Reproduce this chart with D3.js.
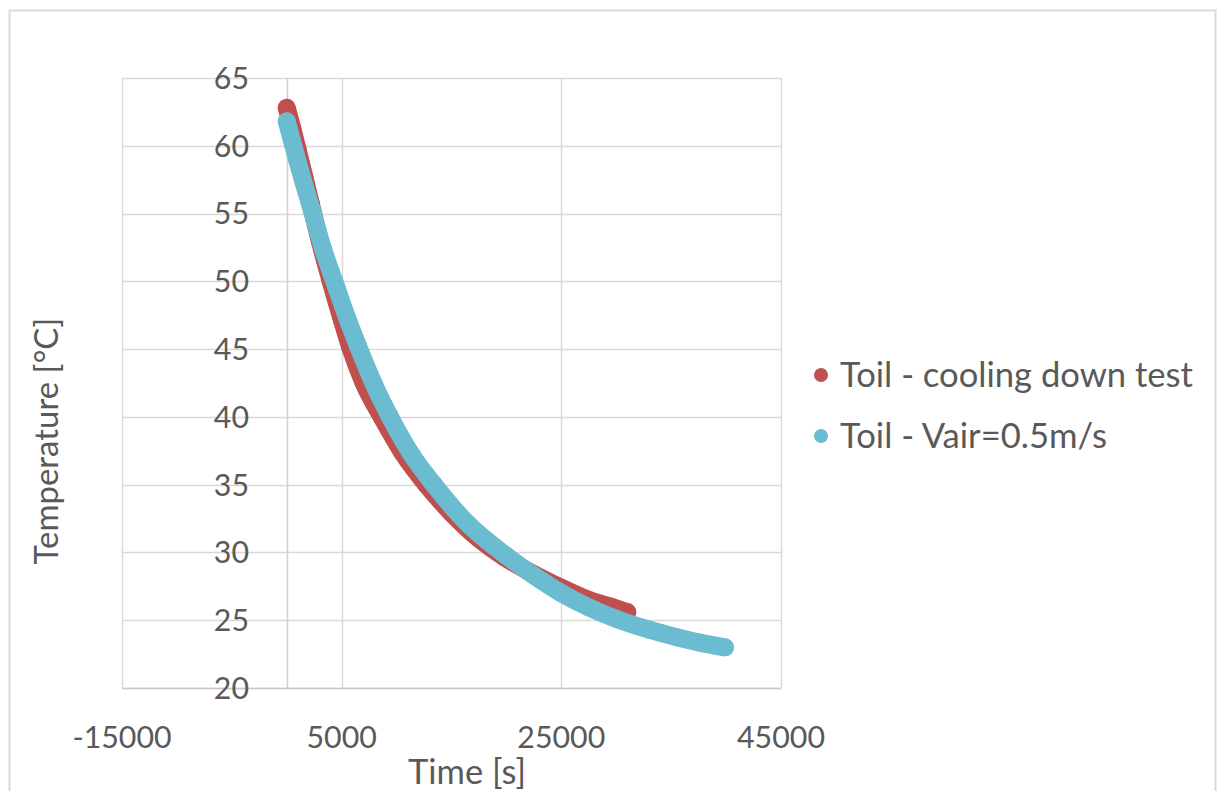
<!DOCTYPE html>
<html><head><meta charset="utf-8">
<script src="https://cdn.jsdelivr.net/npm/d3@7"></script>
<style>
body{margin:0;background:#fff;overflow:hidden}
text{font-family:Lato,"Open Sans",sans-serif;fill:#595959}
</style>
</head><body>
<svg id="chart" width="1217" height="791"></svg>
<script>
// ---- data ----
const seriesNames = ["Toil - cooling down test", "Toil - Vair=0.5m/s"];
const seriesColors = ["#C0504D", "#6BBCD0"];

const redTime = [0, 500, 1000, 1600, 2200, 3000, 4000, 5000, 5750, 7000, 8700, 10500, 12700, 15000, 17500, 19800, 22500, 25000, 27500, 29500, 31000];
const redTemp = [62.8, 61.3, 59.7, 57.7, 55.7, 53.0, 50.0, 47.2, 45.2, 42.5, 39.9, 37.4, 35.0, 32.9, 31.0, 29.65, 28.4, 27.4, 26.5, 26.0, 25.6];

const blueTime = [0, 500, 1000, 1600, 2300, 3300, 4500, 5500, 6500, 8000, 9400, 11300, 13400, 16500, 20000, 22500, 25000, 27500, 30000, 33000, 35500, 37600, 39900];
const blueTemp = [61.8, 60.3, 58.8, 57.1, 55.2, 52.4, 49.6, 47.3, 45.2, 42.3, 40.0, 37.3, 35.0, 32.1, 29.75, 28.3, 27.0, 25.95, 25.1, 24.3, 23.75, 23.35, 23.0];

const xTickValues = [-15000, 5000, 25000, 45000];
const yTickValues = [20, 25, 30, 35, 40, 45, 50, 55, 60, 65];
const xTitle = "Time [s]";
const yTitle = "Temperature [°C]";

// ---- drawing ----
const svg = d3.select("#chart");
const plot = {left: 122, right: 781, top: 78, bottom: 688};

// outer chart frame
svg.append("rect").attr("x", 9.5).attr("y", 10.5).attr("width", 1206).attr("height", 800)
  .attr("fill", "#fff").attr("stroke", "#D9D9D9").attr("stroke-width", 2);

const x = d3.scaleLinear().domain([-15000, 45000]).range([plot.left, plot.right]);
const y = d3.scaleLinear().domain([20, 65]).range([plot.bottom, plot.top]);

const grid = svg.append("g");
grid.selectAll("line.h").data(yTickValues).join("line")
  .attr("x1", plot.left).attr("x2", plot.right)
  .attr("y1", d => Math.round(y(d)) + 0.5).attr("y2", d => Math.round(y(d)) + 0.5)
  .attr("stroke", "#D9D9D9").attr("stroke-width", 1.5);
grid.selectAll("line.v").data(xTickValues).join("line")
  .attr("y1", plot.top).attr("y2", plot.bottom)
  .attr("x1", d => Math.round(x(d)) + 0.5).attr("x2", d => Math.round(x(d)) + 0.5)
  .attr("stroke", "#D9D9D9").attr("stroke-width", 1.5);

// value axis line (crosses at time 0) and category axis line
svg.append("line").attr("x1", Math.round(x(0)) + 0.5).attr("x2", Math.round(x(0)) + 0.5)
  .attr("y1", plot.top).attr("y2", plot.bottom).attr("stroke", "#CFCFCF").attr("stroke-width", 1.5);
svg.append("line").attr("x1", plot.left).attr("x2", plot.right)
  .attr("y1", plot.bottom + 0.5).attr("y2", plot.bottom + 0.5).attr("stroke", "#C8C8C8").attr("stroke-width", 1.5);

// tick labels
function fit(sel, target) {
  const w = sel.node().getComputedTextLength();
  const fs = parseFloat(sel.attr("font-size"));
  return fs * target / w;
}
const probe = svg.append("text").attr("font-size", 30).text("45000");
const tickFs = fit(probe, 88);
probe.remove();

svg.append("g").selectAll("text").data(yTickValues).join("text")
  .attr("x", 249).attr("y", d => y(d)).attr("dy", "0.36em")
  .attr("text-anchor", "end").attr("font-size", tickFs).text(d => d);
svg.append("g").selectAll("text").data(xTickValues).join("text")
  .attr("x", d => x(d)).attr("y", 737).attr("dy", "0.36em")
  .attr("text-anchor", "middle").attr("font-size", tickFs).text(d => d);

// axis titles
const xt = svg.append("text").attr("font-size", 30).attr("text-anchor", "middle")
  .attr("x", 467).attr("y", 784).text(xTitle);
xt.attr("font-size", fit(xt, 118));
const yt = svg.append("text").attr("font-size", 30).attr("text-anchor", "middle")
  .attr("transform", "translate(58,441) rotate(-90)").text(yTitle);
yt.attr("font-size", fit(yt, 247));

// series
const series = [
  {name: seriesNames[0], color: seriesColors[0], pts: redTime.map((t, i) => [t, redTemp[i]])},
  {name: seriesNames[1], color: seriesColors[1], pts: blueTime.map((t, i) => [t, blueTemp[i]])}
];
const line = d3.line().x(d => x(d[0])).y(d => y(d[1])).curve(d3.curveMonotoneX);
const sg = svg.append("g");
series.forEach(s => {
  const g = sg.append("g");
  g.append("path").attr("d", line(s.pts)).attr("fill", "none").attr("stroke", s.color)
    .attr("stroke-width", 18).attr("stroke-linecap", "round").attr("stroke-linejoin", "round");
  g.selectAll("circle").data(s.pts).join("circle")
    .attr("cx", d => x(d[0])).attr("cy", d => y(d[1])).attr("r", 9).attr("fill", s.color);
});

// legend
const legendY = [375, 436];
const legendW = [353, 267];
series.forEach((s, i) => {
  svg.append("circle").attr("cx", 821).attr("cy", legendY[i]).attr("r", 7).attr("fill", s.color);
  const t = svg.append("text").attr("x", 840).attr("y", legendY[i]).attr("dy", "0.36em")
    .attr("font-size", 30).text(s.name);
  t.attr("font-size", fit(t, legendW[i]));
});
</script>
</body></html>
